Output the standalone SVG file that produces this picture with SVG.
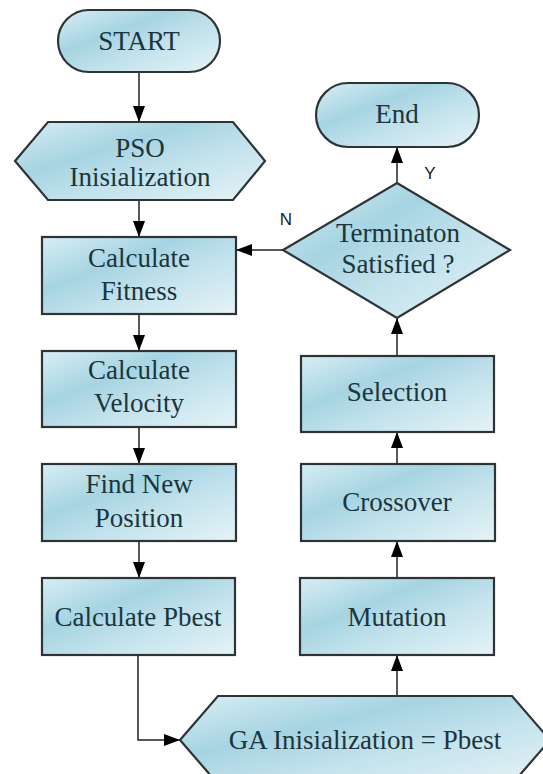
<svg xmlns="http://www.w3.org/2000/svg" width="543" height="774" viewBox="0 0 543 774">
<style>
.shape{stroke:#2e3436;stroke-width:2.2;fill:url(#g)}
.t{font-family:'Liberation Serif','Times New Roman','DejaVu Serif',serif;font-size:27px;fill:#1b353d;text-anchor:middle}
.lbl{font-family:'Liberation Sans',Arial,sans-serif;font-size:17px;fill:#222;text-anchor:middle}
.c{stroke:#222;stroke-width:1.5;fill:none;marker-end:url(#ah)}
</style>
<defs>
<linearGradient id="g" x1="0" y1="0" x2="1" y2="1">
<stop offset="0" stop-color="#d8eef4"/>
<stop offset="0.35" stop-color="#a6d4e2"/>
<stop offset="0.6" stop-color="#c2e2ec"/>
<stop offset="1" stop-color="#e6f3f7"/>
</linearGradient>
<marker id="ah" viewBox="0 0 16 12" refX="16" refY="6" markerWidth="16" markerHeight="12" markerUnits="userSpaceOnUse" orient="auto">
<path d="M0,0 L16,6 L0,12 Z" fill="#000"/>
</marker>
</defs>
<rect width="543" height="774" fill="#fff"/>
<g id="connectors">
<path class="c" d="M139,72 V122"/>
<path class="c" d="M139,200 V237"/>
<path class="c" d="M139,314 V351"/>
<path class="c" d="M139,427 V464"/>
<path class="c" d="M139,541 V578"/>
<path class="c" d="M138,655 V740 H180"/>
<path class="c" d="M397,696 V655"/>
<path class="c" d="M397,578 V541"/>
<path class="c" d="M397,464 V432"/>
<path class="c" d="M397,356 V318"/>
<path class="c" d="M397,183 V147"/>
<path class="c" d="M283,250 H236"/>
<text class="lbl" x="430" y="179">Y</text>
<text class="lbl" x="286" y="225">N</text>
</g>
<g id="start">
<rect class="shape" x="58" y="10" width="162" height="62" rx="31"/>
<text class="t" x="139" y="50">START</text>
</g>
<g id="pso">
<polygon class="shape" points="15,161 48,122 233,122 265,161 233,200 48,200"/>
<text class="t" x="140" y="157">PSO</text>
<text class="t" x="140" y="186">Inisialization</text>
</g>
<g id="fitness">
<rect class="shape" x="42" y="237" width="194" height="77"/>
<text class="t" x="139" y="267">Calculate</text>
<text class="t" x="139" y="300">Fitness</text>
</g>
<g id="velocity">
<rect class="shape" x="42" y="351" width="194" height="76"/>
<text class="t" x="139" y="379">Calculate</text>
<text class="t" x="139" y="412">Velocity</text>
</g>
<g id="position">
<rect class="shape" x="42" y="464" width="194" height="77"/>
<text class="t" x="139" y="493">Find New</text>
<text class="t" x="139" y="527">Position</text>
</g>
<g id="pbest">
<rect class="shape" x="42" y="578" width="193" height="77"/>
<text class="t" x="138" y="626">Calculate Pbest</text>
</g>
<g id="ga">
<polygon class="shape" points="180,740 218,696 512,696 550,740 512,784 218,784"/>
<text class="t" x="365" y="749">GA Inisialization = Pbest</text>
</g>
<g id="mutation">
<rect class="shape" x="300" y="578" width="194" height="77"/>
<text class="t" x="397" y="626">Mutation</text>
</g>
<g id="crossover">
<rect class="shape" x="301" y="464" width="194" height="77"/>
<text class="t" x="397" y="511">Crossover</text>
</g>
<g id="selection">
<rect class="shape" x="301" y="356" width="193" height="76"/>
<text class="t" x="397" y="401">Selection</text>
</g>
<g id="decision">
<polygon class="shape" points="397,183 510,250 397,318 283,250"/>
<text class="t" x="398" y="242">Terminaton</text>
<text class="t" x="398" y="273">Satisfied ?</text>
</g>
<g id="end">
<rect class="shape" x="316" y="83" width="163" height="64" rx="32"/>
<text class="t" x="397" y="123">End</text>
</g>
</svg>
